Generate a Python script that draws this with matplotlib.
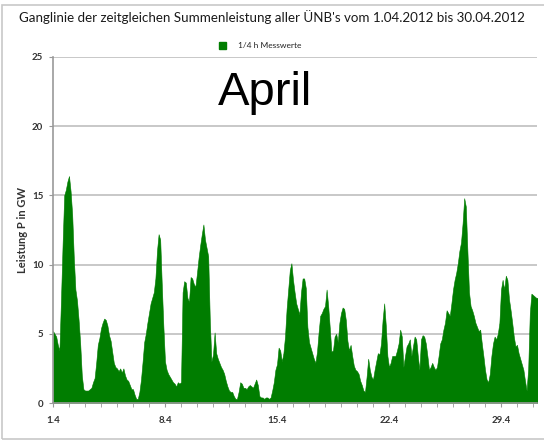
import matplotlib
matplotlib.use("Agg")
import matplotlib.pyplot as plt
import numpy as np
from matplotlib.patches import Rectangle

werte = [
    5.2, 5.0, 4.8, 4.2, 3.8, 7.5, 11.5, 15.0, 15.4, 16.0,    # 1.4
    16.4, 15.3, 13.6, 10.5, 8.2, 7.4, 6.0, 4.3, 2.0, 1.0,    # 2.4
    0.9, 0.9, 0.9, 1.0, 1.1, 1.5, 1.8, 2.9, 4.2, 4.7,        # 3.4
    5.4, 5.8, 6.1, 6.0, 5.6, 4.9, 4.5, 3.7, 2.9, 2.6,        # 4.4
    2.5, 2.3, 2.5, 2.2, 2.5, 2.0, 1.7, 1.6, 1.3, 1.0,        # 5.4
    1.0, 0.6, 0.3, 0.3, 0.8, 1.7, 3.0, 4.4, 5.0, 5.8,        # 6.4
    6.5, 7.2, 7.6, 8.0, 9.0, 11.0, 12.2, 11.8, 8.5, 5.5,     # 7.4
    3.0, 2.4, 2.1, 1.9, 1.7, 1.5, 1.4, 1.2, 1.5, 1.4,        # 8.4
    1.5, 8.0, 8.8, 8.7, 7.6, 7.3, 9.1, 9.0, 8.6, 8.4,        # 9.4
    9.4, 10.5, 11.4, 12.2, 12.9, 11.8, 11.2, 10.6, 6.0, 3.0, # 10.4
    3.5, 5.1, 3.6, 3.2, 2.9, 2.6, 2.4, 2.1, 1.6, 1.2,        # 11.4
    0.9, 0.8, 0.8, 0.5, 0.3, 0.3, 0.8, 1.5, 1.4, 1.1,        # 12.4
    1.1, 1.0, 1.2, 1.3, 1.2, 1.1, 1.4, 1.7, 1.3, 0.5,        # 13.4
    0.4, 0.4, 0.3, 0.4, 0.4, 0.3, 0.4, 0.9, 1.5, 2.4,        # 14.4
    2.8, 4.0, 3.8, 3.0, 3.6, 4.8, 6.8, 8.2, 9.6, 10.1,       # 15.4
    8.9, 8.0, 7.2, 6.8, 6.4, 8.0, 9.0, 9.0, 8.3, 5.5,        # 16.4
    4.4, 4.0, 3.6, 3.2, 2.9, 3.7, 5.1, 6.3, 6.5, 6.8,        # 17.4
    7.0, 8.2, 7.0, 5.4, 3.7, 3.8, 4.8, 5.0, 4.4, 5.8,        # 18.4
    6.5, 6.9, 6.8, 6.0, 4.5, 3.8, 4.2, 3.4, 2.7, 2.4,        # 19.4
    2.3, 2.1, 1.6, 1.3, 0.9, 0.8, 1.9, 3.2, 2.4, 1.9,        # 20.4
    1.7, 2.4, 3.0, 3.6, 3.5, 4.3, 6.0, 7.2, 5.6, 3.4,        # 21.4
    2.6, 2.9, 3.4, 3.4, 3.4, 3.8, 4.3, 5.3, 4.8, 2.6,        # 22.4
    3.4, 4.1, 4.3, 4.6, 3.4, 4.1, 4.8, 4.6, 3.4, 2.4,        # 23.4
    4.6, 4.9, 4.8, 4.3, 3.4, 2.4, 2.6, 2.9, 2.6, 2.4,        # 24.4
    2.6, 3.4, 4.3, 4.6, 5.3, 5.8, 6.7, 6.5, 6.3, 7.2,        # 25.4
    8.2, 8.9, 9.4, 10.1, 11.0, 11.6, 13.0, 14.8, 14.2, 11.0, # 26.4
    8.0, 7.0, 6.7, 6.3, 5.8, 5.5, 5.2, 5.3, 4.3, 3.4,        # 27.4
    2.4, 1.7, 1.5, 2.1, 3.4, 4.3, 4.8, 4.6, 5.0, 5.8,        # 28.4
    8.2, 8.9, 8.2, 9.2, 8.9, 7.5, 6.7, 5.8, 4.8, 4.1,        # 29.4
    4.2, 3.6, 3.2, 2.8, 2.4, 1.6, 0.9, 2.5, 6.5, 7.9,        # 30.4
    7.8, 7.7, 7.6, 7.6,
]
tick_pos = [0, 7, 14, 21, 28]
tick_labels = ["1.4", "8.4", "15.4", "22.4", "29.4"]
y_ticks = [0, 5, 10, 15, 20, 25]

gruen = "#007d00"
font = "Lato"

fig = plt.figure(figsize=(5.44, 4.44), dpi=100)
fig.patches.append(Rectangle((0.004, 0.012), 1.2, 0.976, transform=fig.transFigure,
                             fill=False, edgecolor="#c8c8c8", lw=1.2))
ax = fig.add_axes([53 / 544, 1 - 403 / 444, 484 / 544, 346 / 444])

t = np.arange(len(werte)) * 0.1
ax.fill_between(t, 0, werte, color=gruen, lw=0.4, edgecolor=gruen)

ax.set_xlim(0, 30.25)
ax.set_ylim(0, 25)
ax.set_yticks(y_ticks)
ax.set_yticklabels([str(v) for v in y_ticks], fontsize=7, fontweight="bold",
                   family=font, color="#333333")
ax.set_xticks(tick_pos)
ax.set_xticklabels(tick_labels, fontsize=7, fontweight="bold", family=font, color="#333333")
ax.set_xticks(np.arange(0, 31), minor=True)
ax.tick_params(axis="x", which="both", length=3, color="#999999", pad=6)
ax.tick_params(axis="y", length=3, color="#999999", pad=4)
ax.grid(axis="y", color="#c4c4c4", lw=1.3)
ax.set_axisbelow(True)
for s in ["top", "right"]:
    ax.spines[s].set_visible(False)
for s in ["left", "bottom"]:
    ax.spines[s].set_color("#999999")
    ax.spines[s].set_linewidth(1.2)

ax.set_ylabel("Leistung P in GW", fontsize=8, fontweight="bold", family=font,
              color="#333333", labelpad=3)

fig.text(0.5, 1 - 17 / 444, "Ganglinie der zeitgleichen Summenleistung aller ÜNB's vom 1.04.2012 bis 30.04.2012",
         ha="center", va="center", fontsize=9.6, family=font, color="#1a1a1a")
fig.text(270 / 544, 1 - 45 / 444, "1/4 h Messwerte", ha="center", va="center",
         fontsize=6, family=font, color="#222222")
fig.patches.append(Rectangle((219 / 544, 1 - 49 / 444), 7 / 544, 7 / 444,
                             transform=fig.transFigure, color=gruen))

fig.text(265 / 544, 1 - 93 / 444, "April", ha="center", va="center",
         fontsize=34, family="Liberation Sans", color="black")

fig.savefig("out.png", dpi=100)
